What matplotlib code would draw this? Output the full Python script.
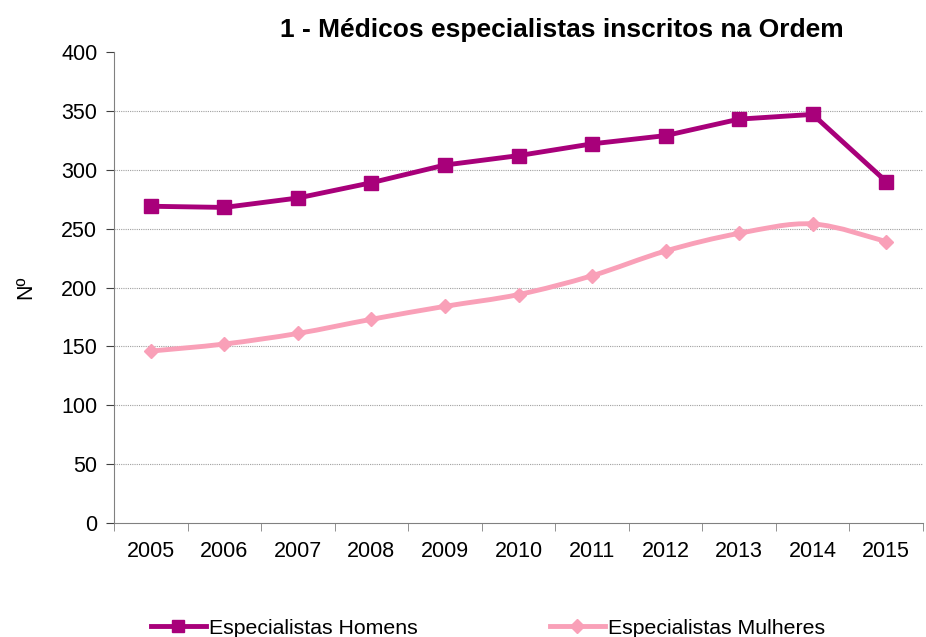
import matplotlib.pyplot as plt
import numpy as np
from matplotlib.path import Path
from matplotlib.patches import PathPatch
from matplotlib.lines import Line2D

plt.rcParams['font.family'] = ['Liberation Sans', 'DejaVu Sans']

anos = ['2005', '2006', '2007', '2008', '2009', '2010', '2011', '2012', '2013', '2014', '2015']
homens = [269, 268, 276, 289, 304, 312, 322, 329, 343, 347, 290]
mulheres = [146, 152, 161, 173, 184, 194, 210, 231, 246, 254, 239]

cor_h = '#A8007A'
cor_m = '#F9A0B8'


def smooth_path(xs, ys):
    # Excel-style smoothed line: cubic Bezier through the points
    pts = np.column_stack([xs, ys]).astype(float)
    verts = [pts[0]]
    codes = [Path.MOVETO]
    n = len(pts)
    for i in range(n - 1):
        p0 = pts[i - 1] if i > 0 else pts[i]
        p1 = pts[i]
        p2 = pts[i + 1]
        p3 = pts[i + 2] if i + 2 < n else pts[i + 1]
        c1 = p1 + (p2 - p0) / 6.0
        c2 = p2 - (p3 - p1) / 6.0
        verts += [c1, c2, p2]
        codes += [Path.CURVE4] * 3
    return Path(verts, codes)


fig = plt.figure(figsize=(9.26, 6.37), dpi=100)
ax = fig.add_axes([114 / 926, 1 - 523 / 637, (923 - 114) / 926, (523 - 52) / 637])

x = np.arange(len(anos))
ax.plot(x, homens, color=cor_h, lw=3.5, marker='s', ms=10, zorder=4)
ax.add_patch(PathPatch(smooth_path(x, mulheres), fill=False, edgecolor=cor_m, lw=3.5, zorder=3))
ax.plot(x, mulheres, ls='none', color=cor_m, marker='D', ms=7, zorder=3)

ax.set_xlim(-0.5, len(anos) - 0.5)
ax.set_ylim(0, 400)
ax.set_yticks(range(0, 401, 50))
ax.set_xticks(x)
ax.set_xticklabels(anos)
ax.set_xticks(np.arange(-0.5, len(anos), 1), minor=True)
ax.tick_params(axis='x', which='major', length=0, pad=13, labelsize=15.5)
ax.tick_params(axis='x', which='minor', length=6, direction='out', color='#808080')
ax.tick_params(axis='y', length=6, direction='out', color='#404040', labelsize=15.5, pad=6)

for v in range(50, 400, 50):
    ax.axhline(v, color='#A0A0A0', lw=0.8, ls=(0, (1, 1)), zorder=1)

for s in ['top', 'right']:
    ax.spines[s].set_visible(False)
ax.spines['left'].set_color('#808080')
ax.spines['bottom'].set_color('#808080')

ax.set_ylabel('Nº', fontsize=15.5, labelpad=18)
fig.text(562 / 926, 1 - 30 / 637, '1 - Médicos especialistas inscritos na Ordem',
         ha='center', va='center', fontsize=19, fontweight='bold')

h1 = Line2D([], [], color=cor_h, lw=3.5, marker='s', ms=9)
h2 = Line2D([], [], color=cor_m, lw=3.5, marker='D', ms=7)
fig.legend([h1, h2], ['Especialistas Homens', 'Especialistas Mulheres'],
           loc='center', bbox_to_anchor=(488 / 926, 1 - 628 / 637), ncol=2,
           frameon=False, fontsize=15.3, handlelength=2.6, handletextpad=0.15,
           columnspacing=6.2, borderpad=0, borderaxespad=0)

fig.savefig('out.png', dpi=100)
